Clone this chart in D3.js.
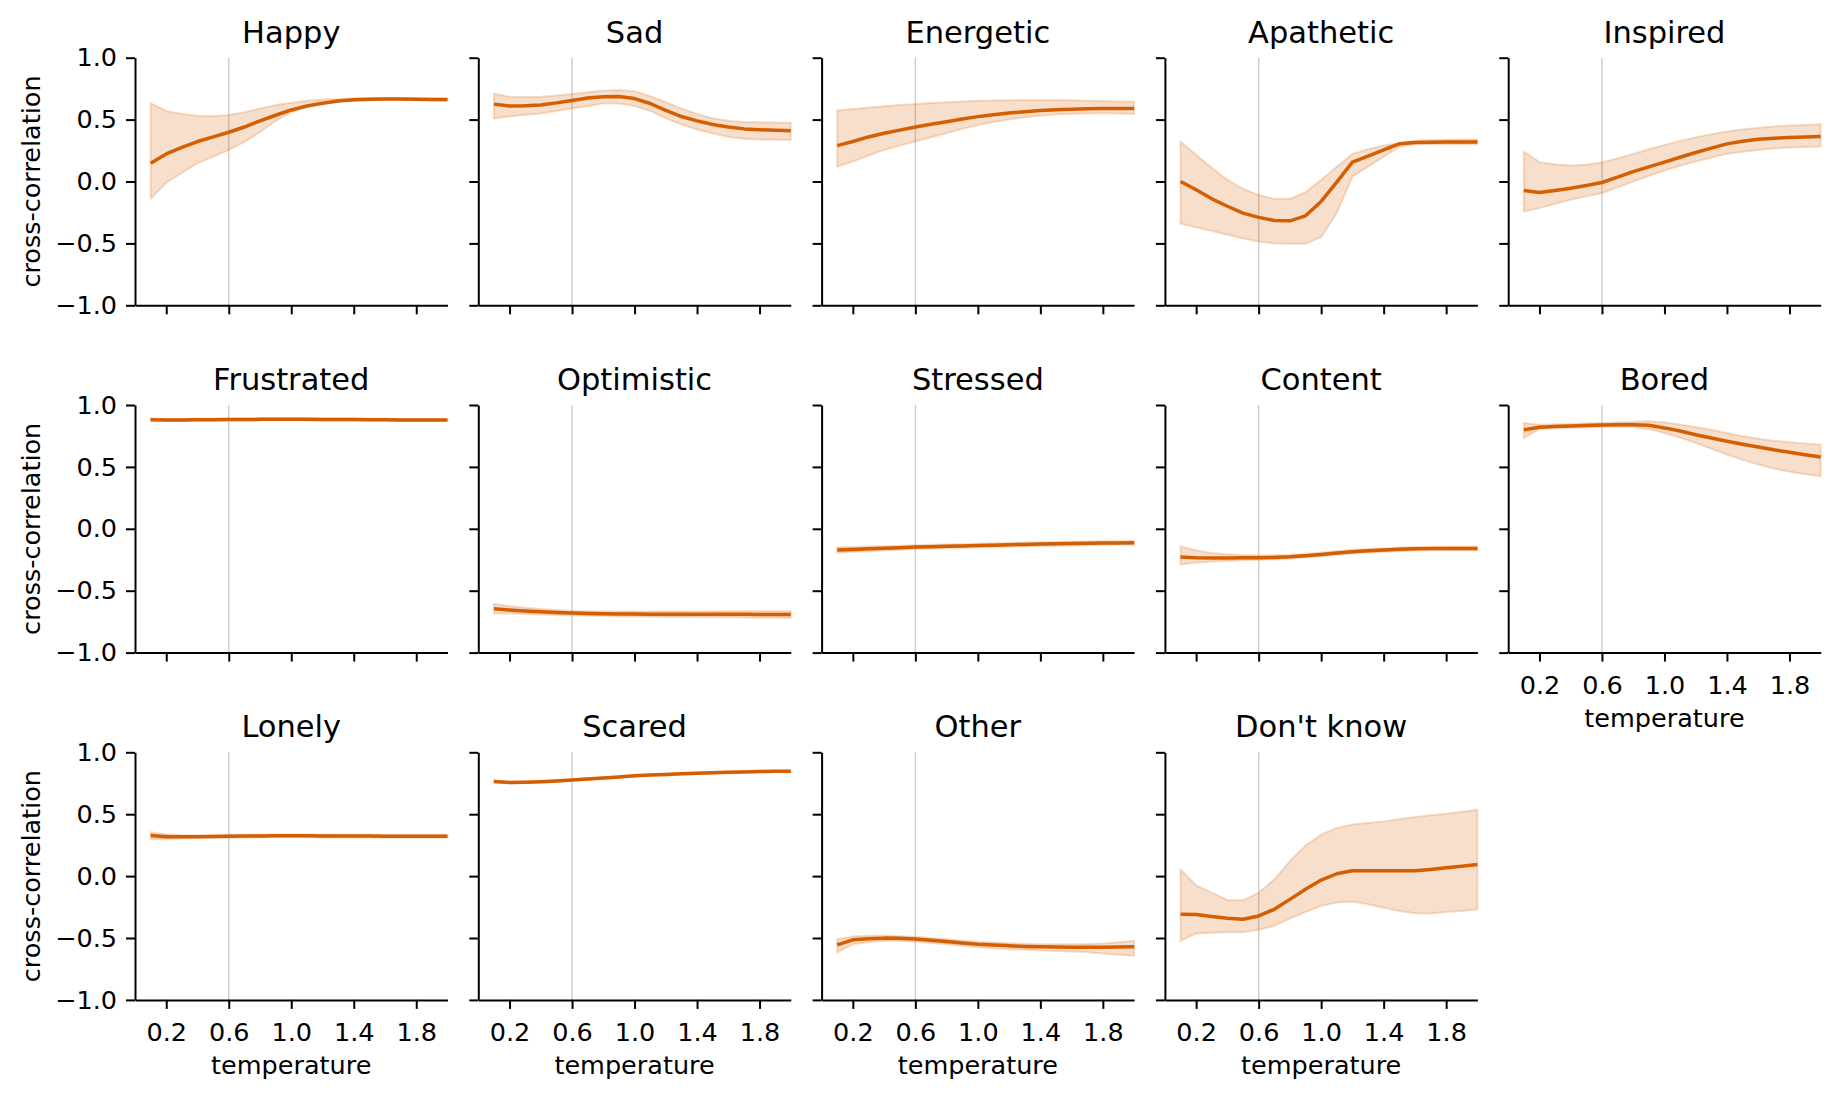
<!DOCTYPE html>
<html>
<head>
<meta charset="utf-8">
<script src="https://cdn.jsdelivr.net/npm/d3@7"></script>
<style>
  body { margin: 0; background: #fff; }
  text { font-family: "DejaVu Sans", sans-serif; fill: #000; }
</style>
</head>
<body>
<div id="chart"></div>
<script>
// temperatures sampled on every panel
const temps = [0.1, 0.2, 0.3, 0.4, 0.5, 0.6, 0.7, 0.8, 0.9, 1.0, 1.1, 1.2, 1.3, 1.4, 1.5, 1.6, 1.7, 1.8, 1.9, 2.0];
const xTicks = [0.2, 0.6, 1.0, 1.4, 1.8];
const yTicks = [-1.0, -0.5, 0.0, 0.5, 1.0];
const refTemp = 0.6;

const emotions = ["Happy", "Sad", "Energetic", "Apathetic", "Inspired",
                  "Frustrated", "Optimistic", "Stressed", "Content", "Bored",
                  "Lonely", "Scared", "Other", "Don't know"];

// mean cross-correlation and band (lo / hi) per emotion
const happyMean = [0.148, 0.223, 0.275, 0.323, 0.36, 0.398, 0.44, 0.49, 0.535, 0.578, 0.61, 0.632, 0.65, 0.66, 0.665, 0.667, 0.667, 0.665, 0.663, 0.662];
const happyHi   = [0.632, 0.57, 0.545, 0.532, 0.53, 0.537, 0.56, 0.59, 0.618, 0.637, 0.652, 0.662, 0.667, 0.672, 0.673, 0.673, 0.673, 0.672, 0.67, 0.67];
const happyLo   = [-0.14, -0.01, 0.07, 0.148, 0.2, 0.255, 0.32, 0.4, 0.49, 0.56, 0.605, 0.635, 0.648, 0.652, 0.657, 0.66, 0.66, 0.658, 0.655, 0.655];

const sadMean = [0.625, 0.61, 0.612, 0.618, 0.635, 0.655, 0.675, 0.685, 0.687, 0.67, 0.63, 0.575, 0.525, 0.49, 0.46, 0.44, 0.425, 0.418, 0.413, 0.41];
const sadHi   = [0.71, 0.685, 0.683, 0.685, 0.695, 0.707, 0.72, 0.735, 0.74, 0.73, 0.69, 0.64, 0.59, 0.545, 0.51, 0.49, 0.48, 0.478, 0.476, 0.475];
const sadLo   = [0.51, 0.525, 0.54, 0.55, 0.57, 0.59, 0.61, 0.63, 0.63, 0.61, 0.57, 0.51, 0.46, 0.42, 0.39, 0.36, 0.345, 0.34, 0.338, 0.336];

const energeticMean = [0.29, 0.323, 0.36, 0.39, 0.415, 0.44, 0.462, 0.483, 0.505, 0.524, 0.54, 0.553, 0.564, 0.573, 0.579, 0.584, 0.587, 0.589, 0.589, 0.589];
const energeticHi   = [0.573, 0.585, 0.597, 0.607, 0.617, 0.626, 0.634, 0.641, 0.647, 0.652, 0.655, 0.657, 0.658, 0.659, 0.658, 0.656, 0.653, 0.65, 0.647, 0.645];
const energeticLo   = [0.121, 0.161, 0.21, 0.255, 0.29, 0.323, 0.357, 0.39, 0.425, 0.457, 0.48, 0.5, 0.518, 0.532, 0.541, 0.547, 0.55, 0.551, 0.549, 0.546];

const apatheticMean = [0.0, -0.067, -0.14, -0.2, -0.255, -0.29, -0.315, -0.318, -0.277, -0.161, -0.005, 0.156, 0.205, 0.255, 0.304, 0.315, 0.317, 0.32, 0.32, 0.32];
const apatheticHi   = [0.323, 0.215, 0.11, 0.013, -0.06, -0.108, -0.14, -0.14, -0.086, 0.013, 0.12, 0.223, 0.26, 0.29, 0.31, 0.33, 0.335, 0.338, 0.34, 0.34];
const apatheticLo   = [-0.341, -0.37, -0.4, -0.43, -0.46, -0.485, -0.5, -0.503, -0.503, -0.449, -0.255, 0.04, 0.12, 0.2, 0.28, 0.3, 0.3, 0.3, 0.3, 0.3];

const inspiredMean = [-0.073, -0.089, -0.072, -0.054, -0.033, -0.008, 0.035, 0.08, 0.118, 0.156, 0.196, 0.234, 0.27, 0.304, 0.325, 0.341, 0.349, 0.355, 0.359, 0.363];
const inspiredHi   = [0.242, 0.156, 0.14, 0.129, 0.138, 0.153, 0.187, 0.223, 0.26, 0.296, 0.328, 0.358, 0.382, 0.403, 0.42, 0.435, 0.445, 0.452, 0.457, 0.462];
const inspiredLo   = [-0.242, -0.215, -0.18, -0.148, -0.12, -0.094, -0.047, 0.0, 0.045, 0.089, 0.127, 0.161, 0.193, 0.223, 0.24, 0.255, 0.266, 0.274, 0.278, 0.282];

const frustratedMean = [0.880, 0.879, 0.879, 0.880, 0.881, 0.882, 0.883, 0.884, 0.884, 0.884, 0.884, 0.883, 0.883, 0.882, 0.881, 0.880, 0.879, 0.879, 0.878, 0.878];
const frustratedHi   = [0.889, 0.887, 0.887, 0.888, 0.889, 0.890, 0.891, 0.892, 0.892, 0.892, 0.892, 0.891, 0.891, 0.890, 0.889, 0.888, 0.887, 0.887, 0.886, 0.886];
const frustratedLo   = [0.871, 0.871, 0.871, 0.872, 0.873, 0.874, 0.875, 0.876, 0.876, 0.876, 0.876, 0.875, 0.875, 0.874, 0.873, 0.872, 0.871, 0.871, 0.870, 0.870];

const optimisticMean = [-0.645, -0.655, -0.663, -0.67, -0.676, -0.68, -0.684, -0.686, -0.688, -0.689, -0.69, -0.69, -0.69, -0.69, -0.69, -0.69, -0.691, -0.692, -0.692, -0.693];
const optimisticHi   = [-0.605, -0.625, -0.638, -0.648, -0.656, -0.661, -0.665, -0.667, -0.668, -0.669, -0.669, -0.668, -0.668, -0.667, -0.667, -0.666, -0.666, -0.666, -0.665, -0.665];
const optimisticLo   = [-0.685, -0.685, -0.688, -0.692, -0.696, -0.699, -0.703, -0.705, -0.708, -0.709, -0.711, -0.712, -0.713, -0.714, -0.714, -0.715, -0.716, -0.718, -0.719, -0.721];

const stressedMean = [-0.172, -0.167, -0.162, -0.158, -0.153, -0.148, -0.145, -0.141, -0.138, -0.135, -0.132, -0.129, -0.126, -0.123, -0.121, -0.119, -0.117, -0.115, -0.114, -0.113];
const stressedHi   = [-0.15, -0.147, -0.143, -0.14, -0.136, -0.132, -0.129, -0.126, -0.123, -0.12, -0.117, -0.114, -0.111, -0.108, -0.106, -0.104, -0.102, -0.1, -0.099, -0.098];
const stressedLo   = [-0.194, -0.187, -0.181, -0.176, -0.17, -0.164, -0.161, -0.156, -0.153, -0.15, -0.147, -0.144, -0.141, -0.138, -0.136, -0.134, -0.132, -0.13, -0.129, -0.128];

const contentMean = [-0.228, -0.234, -0.235, -0.235, -0.234, -0.234, -0.231, -0.226, -0.217, -0.207, -0.196, -0.185, -0.178, -0.172, -0.166, -0.161, -0.16, -0.159, -0.159, -0.159];
const contentHi   = [-0.14, -0.175, -0.195, -0.205, -0.212, -0.215, -0.214, -0.21, -0.202, -0.192, -0.181, -0.17, -0.163, -0.157, -0.152, -0.147, -0.146, -0.145, -0.145, -0.145];
const contentLo   = [-0.288, -0.274, -0.265, -0.26, -0.255, -0.25, -0.247, -0.242, -0.232, -0.222, -0.211, -0.2, -0.193, -0.187, -0.181, -0.176, -0.175, -0.174, -0.174, -0.174];

const boredMean = [0.80, 0.82, 0.826, 0.83, 0.835, 0.839, 0.841, 0.841, 0.836, 0.815, 0.79, 0.76, 0.733, 0.707, 0.683, 0.661, 0.638, 0.618, 0.598, 0.58];
const boredHi   = [0.855, 0.841, 0.845, 0.848, 0.852, 0.855, 0.86, 0.865, 0.868, 0.86, 0.843, 0.823, 0.8, 0.774, 0.75, 0.728, 0.712, 0.70, 0.69, 0.68];
const boredLo   = [0.734, 0.806, 0.812, 0.817, 0.82, 0.823, 0.823, 0.823, 0.805, 0.774, 0.735, 0.694, 0.647, 0.60, 0.557, 0.519, 0.487, 0.46, 0.44, 0.425];

const lonelyMean = [0.327, 0.318, 0.317, 0.318, 0.32, 0.322, 0.323, 0.324, 0.325, 0.325, 0.325, 0.324, 0.324, 0.323, 0.323, 0.322, 0.322, 0.322, 0.322, 0.322];
const lonelyHi   = [0.355, 0.338, 0.331, 0.33, 0.332, 0.334, 0.335, 0.336, 0.337, 0.337, 0.337, 0.336, 0.336, 0.335, 0.335, 0.334, 0.334, 0.334, 0.334, 0.334];
const lonelyLo   = [0.297, 0.298, 0.303, 0.306, 0.308, 0.31, 0.311, 0.312, 0.313, 0.313, 0.313, 0.312, 0.312, 0.311, 0.311, 0.31, 0.31, 0.31, 0.31, 0.31];

const scaredMean = [0.764, 0.756, 0.759, 0.763, 0.769, 0.777, 0.785, 0.793, 0.801, 0.81, 0.816, 0.821, 0.826, 0.83, 0.834, 0.838, 0.841, 0.844, 0.846, 0.847];
const scaredHi   = [0.772, 0.762, 0.765, 0.769, 0.775, 0.783, 0.791, 0.799, 0.807, 0.816, 0.822, 0.827, 0.832, 0.836, 0.84, 0.844, 0.847, 0.85, 0.852, 0.853];
const scaredLo   = [0.756, 0.750, 0.753, 0.757, 0.763, 0.771, 0.779, 0.787, 0.795, 0.804, 0.81, 0.815, 0.82, 0.824, 0.828, 0.832, 0.835, 0.838, 0.84, 0.841];

const otherMean = [-0.555, -0.515, -0.506, -0.501, -0.503, -0.509, -0.518, -0.528, -0.54, -0.55, -0.557, -0.563, -0.568, -0.571, -0.573, -0.574, -0.574, -0.574, -0.573, -0.571];
const otherHi   = [-0.509, -0.488, -0.482, -0.48, -0.485, -0.49, -0.5, -0.51, -0.52, -0.53, -0.537, -0.542, -0.546, -0.55, -0.55, -0.55, -0.548, -0.545, -0.535, -0.523];
const otherLo   = [-0.617, -0.55, -0.535, -0.522, -0.523, -0.53, -0.54, -0.55, -0.563, -0.575, -0.583, -0.59, -0.595, -0.6, -0.605, -0.61, -0.615, -0.625, -0.635, -0.643];

const dontKnowMean = [-0.308, -0.311, -0.327, -0.34, -0.349, -0.322, -0.268, -0.188, -0.107, -0.032, 0.019, 0.043, 0.043, 0.043, 0.043, 0.043, 0.054, 0.067, 0.08, 0.094];
const dontKnowHi   = [0.054, -0.075, -0.134, -0.193, -0.196, -0.134, -0.027, 0.121, 0.247, 0.335, 0.389, 0.416, 0.429, 0.442, 0.461, 0.477, 0.491, 0.504, 0.52, 0.536];
const dontKnowLo   = [-0.523, -0.464, -0.458, -0.453, -0.453, -0.434, -0.402, -0.343, -0.29, -0.241, -0.214, -0.206, -0.228, -0.255, -0.282, -0.30, -0.303, -0.29, -0.282, -0.268];

const means = [happyMean, sadMean, energeticMean, apatheticMean, inspiredMean,
               frustratedMean, optimisticMean, stressedMean, contentMean, boredMean,
               lonelyMean, scaredMean, otherMean, dontKnowMean];
const his = [happyHi, sadHi, energeticHi, apatheticHi, inspiredHi,
             frustratedHi, optimisticHi, stressedHi, contentHi, boredHi,
             lonelyHi, scaredHi, otherHi, dontKnowHi];
const los = [happyLo, sadLo, energeticLo, apatheticLo, inspiredLo,
             frustratedLo, optimisticLo, stressedLo, contentLo, boredLo,
             lonelyLo, scaredLo, otherLo, dontKnowLo];

const width = 1839, height = 1098;
const left0 = 135, colStep = 343.3, top0 = 57.7, rowStep = 347.3;
const pw = 312.5, ph = 247.6;
const color = "#d55e00";

const svg = d3.select("#chart").append("svg")
    .attr("width", width)
    .attr("height", height);

const x = d3.scaleLinear().domain([0, 2.0]).range([0, pw]);
const y = d3.scaleLinear().domain([-1, 1]).range([ph, 0]);
const fmt = d3.format(".1f");

emotions.forEach((name, i) => {
    const row = Math.floor(i / 5), col = i % 5;
    const showX = row === 2 || (col === 4 && row === 1);
    const showY = col === 0;

    const g = svg.append("g")
        .attr("transform", `translate(${left0 + col * colStep},${top0 + row * rowStep})`);

    const pts = temps.map((t, k) => ({ t, m: means[i][k], lo: los[i][k], hi: his[i][k] }));

    // reference temperature line
    g.append("line")
        .attr("x1", x(refTemp)).attr("x2", x(refTemp))
        .attr("y1", y(-1)).attr("y2", y(1))
        .attr("stroke", "#000").attr("stroke-opacity", 0.2).attr("stroke-width", 1.4);

    g.append("path")
        .datum(pts)
        .attr("d", d3.area().x(d => x(d.t)).y0(d => y(d.lo)).y1(d => y(d.hi)))
        .attr("fill", color).attr("fill-opacity", 0.2)
        .attr("stroke", color).attr("stroke-opacity", 0.2).attr("stroke-width", 2);

    g.append("path")
        .datum(pts)
        .attr("d", d3.line().x(d => x(d.t)).y(d => y(d.m)))
        .attr("fill", "none")
        .attr("stroke", color).attr("stroke-width", 3.5)
        .attr("stroke-linejoin", "round");

    const xAxis = g.append("g")
        .attr("transform", `translate(0,${ph})`)
        .call(d3.axisBottom(x).tickValues(xTicks).tickSize(9).tickSizeOuter(0).tickPadding(14)
            .tickFormat(showX ? fmt : () => ""));
    const yAxis = g.append("g")
        .call(d3.axisLeft(y).tickValues(yTicks).tickSize(9).tickSizeOuter(0).tickPadding(9)
            .tickFormat(showY ? fmt : () => ""));

    [xAxis, yAxis].forEach(a => {
        a.attr("font-family", null).attr("font-size", null);
        a.select(".domain").attr("stroke-width", 2);
        a.selectAll(".tick line").attr("stroke-width", 2);
        a.selectAll(".tick text").attr("font-size", 25.5);
    });
    xAxis.selectAll(".tick text").attr("dy", "0.72em");

    g.append("text")
        .attr("x", pw / 2).attr("y", -15)
        .attr("text-anchor", "middle")
        .attr("font-size", 30.5)
        .text(name);

    if (showX) {
        g.append("text")
            .attr("x", pw / 2).attr("y", ph + 74)
            .attr("text-anchor", "middle")
            .attr("font-size", 25.5)
            .text("temperature");
    }
    if (showY) {
        g.append("text")
            .attr("transform", `translate(${40 - left0},${ph / 2}) rotate(-90)`)
            .attr("text-anchor", "middle")
            .attr("font-size", 25.5)
            .text("cross-correlation");
    }
});
</script>
</body>
</html>
